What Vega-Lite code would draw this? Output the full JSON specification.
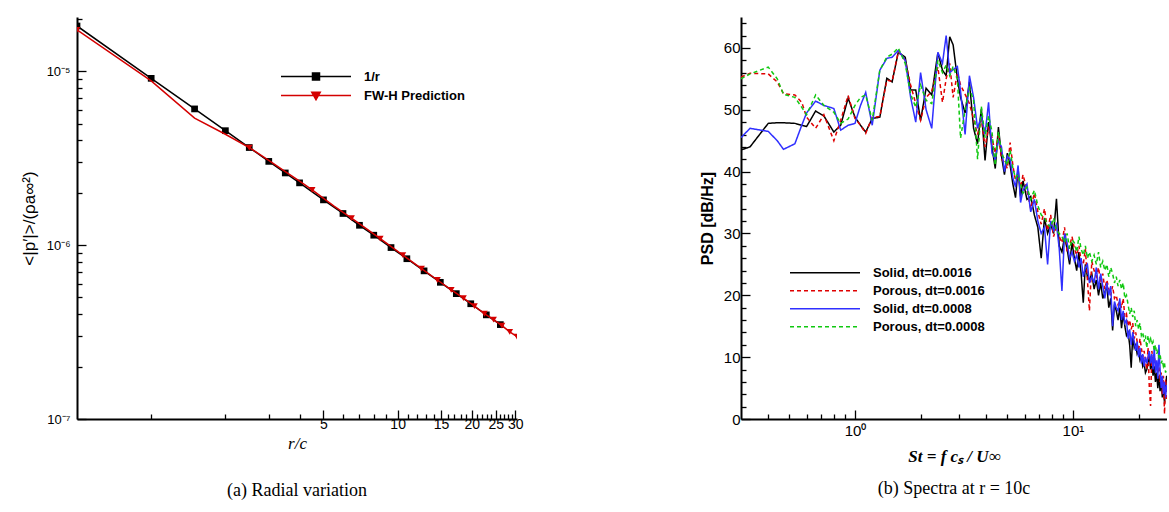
{
  "$schema": "https://vega.github.io/schema/vega-lite/v6.json",
  "padding": {"left": 20, "top": 12, "right": 0, "bottom": 0},
  "spacing": 175,
  "background": "white",
  "resolve": {"scale": {"color": "independent", "strokeDash": "independent", "shape": "independent"}, "legend": {"color": "independent", "strokeDash": "independent", "shape": "independent"}},
  "config": {
    "view": {"stroke": null},
    "axis": {"grid": false, "domainColor": "black", "domainWidth": 2, "tickColor": "black", "tickWidth": 1.3, "labelColor": "black", "titleColor": "black", "labelFont": "Liberation Sans", "titleFont": "Liberation Sans", "labelOverlap": false, "labelFlush": false, "labelBound": false},
    "title": {"font": "Liberation Serif", "fontSize": 18, "fontWeight": "normal", "color": "black", "frame": "group", "anchor": "middle"}
  },
  "datasets": {
    "radial": [
      {"r": 0.5, "v": 1.82e-5, "series": "1/r"},
      {"r": 1, "v": 9.1e-6, "series": "1/r"},
      {"r": 1.5, "v": 6.07e-6, "series": "1/r"},
      {"r": 2, "v": 4.55e-6, "series": "1/r"},
      {"r": 2.5, "v": 3.64e-6, "series": "1/r"},
      {"r": 3, "v": 3.03e-6, "series": "1/r"},
      {"r": 3.5, "v": 2.6e-6, "series": "1/r"},
      {"r": 4, "v": 2.28e-6, "series": "1/r"},
      {"r": 5, "v": 1.82e-6, "series": "1/r"},
      {"r": 6, "v": 1.52e-6, "series": "1/r"},
      {"r": 7, "v": 1.3e-6, "series": "1/r"},
      {"r": 8, "v": 1.14e-6, "series": "1/r"},
      {"r": 9.4, "v": 9.68e-7, "series": "1/r"},
      {"r": 10.9, "v": 8.35e-7, "series": "1/r"},
      {"r": 12.8, "v": 7.11e-7, "series": "1/r"},
      {"r": 14.9, "v": 6.11e-7, "series": "1/r"},
      {"r": 17.3, "v": 5.26e-7, "series": "1/r"},
      {"r": 19.8, "v": 4.6e-7, "series": "1/r"},
      {"r": 22.9, "v": 3.97e-7, "series": "1/r"},
      {"r": 26.1, "v": 3.49e-7, "series": "1/r"},
      {"r": 0.5, "v": 1.73e-5, "series": "FW-H Prediction"},
      {"r": 1, "v": 8.8e-6, "series": "FW-H Prediction"},
      {"r": 1.5, "v": 5.37e-6, "series": "FW-H Prediction"},
      {"r": 2, "v": 4.34e-6, "series": "FW-H Prediction"},
      {"r": 2.5, "v": 3.64e-6, "series": "FW-H Prediction"},
      {"r": 3, "v": 3.07e-6, "series": "FW-H Prediction"},
      {"r": 3.5, "v": 2.65e-6, "series": "FW-H Prediction"},
      {"r": 4, "v": 2.33e-6, "series": "FW-H Prediction"},
      {"r": 4.5, "v": 2.08e-6, "series": "FW-H Prediction"},
      {"r": 5.5, "v": 1.68e-6, "series": "FW-H Prediction"},
      {"r": 6.5, "v": 1.43e-6, "series": "FW-H Prediction"},
      {"r": 8.5, "v": 1.09e-6, "series": "FW-H Prediction"},
      {"r": 10.5, "v": 8.76e-7, "series": "FW-H Prediction"},
      {"r": 12.5, "v": 7.32e-7, "series": "FW-H Prediction"},
      {"r": 14.5, "v": 6.3e-7, "series": "FW-H Prediction"},
      {"r": 16.5, "v": 5.53e-7, "series": "FW-H Prediction"},
      {"r": 18.5, "v": 4.95e-7, "series": "FW-H Prediction"},
      {"r": 20.5, "v": 4.46e-7, "series": "FW-H Prediction"},
      {"r": 22.5, "v": 4.03e-7, "series": "FW-H Prediction"},
      {"r": 24.5, "v": 3.73e-7, "series": "FW-H Prediction"},
      {"r": 26.5, "v": 3.44e-7, "series": "FW-H Prediction"},
      {"r": 28.5, "v": 3.17e-7, "series": "FW-H Prediction"},
      {"r": 30.5, "v": 2.98e-7, "series": "FW-H Prediction"}
    ],
    "psd": [
      {"st": 0.3, "s16": 43.5, "p16": 55.3, "s08": 45.5, "p08": 55.0},
      {"st": 0.33, "s16": 44.0, "p16": 55.9, "s08": 47.0, "p08": 55.8},
      {"st": 0.4, "s16": 47.8, "p16": 55.8, "s08": 46.5, "p08": 56.9},
      {"st": 0.44, "s16": 47.9, "p16": 54.5, "s08": 45.0, "p08": 55.0},
      {"st": 0.47, "s16": 47.9, "p16": 52.6, "s08": 43.6, "p08": 52.5},
      {"st": 0.53, "s16": 47.8, "p16": 52.4, "s08": 44.5, "p08": 52.0},
      {"st": 0.57, "s16": 47.5, "p16": 51.2, "s08": 47.5, "p08": 50.4},
      {"st": 0.6, "s16": 47.3, "p16": 48.8, "s08": 49.5, "p08": 49.2},
      {"st": 0.66, "s16": 49.8, "p16": 47.0, "s08": 51.4, "p08": 52.4},
      {"st": 0.72, "s16": 49.0, "p16": 49.2, "s08": 50.7, "p08": 50.7},
      {"st": 0.8, "s16": 46.4, "p16": 45.0, "s08": 50.2, "p08": 49.6},
      {"st": 0.86, "s16": 47.5, "p16": 48.3, "s08": 46.7, "p08": 47.8},
      {"st": 0.93, "s16": 51.9, "p16": 52.3, "s08": 47.5, "p08": 48.5},
      {"st": 1.0, "s16": 48.8, "p16": 48.6, "s08": 47.8, "p08": 50.7},
      {"st": 1.06, "s16": 47.5, "p16": 47.5, "s08": 50.7, "p08": 52.0},
      {"st": 1.12, "s16": 46.4, "p16": 46.2, "s08": 52.8, "p08": 52.4},
      {"st": 1.2, "s16": 48.6, "p16": 48.8, "s08": 47.5, "p08": 48.3},
      {"st": 1.3, "s16": 48.8, "p16": 48.9, "s08": 56.4, "p08": 56.4},
      {"st": 1.4, "s16": 55.1, "p16": 54.8, "s08": 58.3, "p08": 58.5},
      {"st": 1.48, "s16": 54.5, "p16": 54.6, "s08": 58.5, "p08": 59.0},
      {"st": 1.58, "s16": 59.3, "p16": 59.4, "s08": 59.6, "p08": 60.0},
      {"st": 1.7, "s16": 58.5, "p16": 58.0, "s08": 58.0, "p08": 57.5},
      {"st": 1.8, "s16": 53.2, "p16": 54.0, "s08": 52.0, "p08": 52.5},
      {"st": 1.9, "s16": 53.2, "p16": 51.0, "s08": 48.0, "p08": 50.4},
      {"st": 2.0, "s16": 48.3, "p16": 48.3, "s08": 56.0, "p08": 54.0},
      {"st": 2.12, "s16": 53.5, "p16": 52.0, "s08": 50.0, "p08": 51.5},
      {"st": 2.25, "s16": 52.4, "p16": 53.0, "s08": 47.0, "p08": 51.0},
      {"st": 2.4, "s16": 59.2, "p16": 56.9, "s08": 59.3, "p08": 58.0},
      {"st": 2.52, "s16": 56.4, "p16": 51.2, "s08": 57.5, "p08": 56.0},
      {"st": 2.62, "s16": 55.5, "p16": 55.0, "s08": 62.0, "p08": 57.2},
      {"st": 2.72, "s16": 61.8, "p16": 57.5, "s08": 56.0, "p08": 55.5},
      {"st": 2.82, "s16": 60.5, "p16": 52.0, "s08": 56.5, "p08": 57.0},
      {"st": 2.95, "s16": 55.0, "p16": 56.0, "s08": 57.0, "p08": 55.0},
      {"st": 3.05, "s16": 52.0, "p16": 54.0, "s08": 53.0, "p08": 45.4},
      {"st": 3.2, "s16": 49.5, "p16": 52.5, "s08": 46.0, "p08": 50.0},
      {"st": 3.35, "s16": 54.5, "p16": 51.0, "s08": 55.5, "p08": 53.5},
      {"st": 3.5, "s16": 47.0, "p16": 48.5, "s08": 52.0, "p08": 51.5},
      {"st": 3.65, "s16": 44.5, "p16": 46.0, "s08": 47.0, "p08": 42.0},
      {"st": 3.8, "s16": 50.2, "p16": 48.5, "s08": 49.0, "p08": 50.5},
      {"st": 3.95, "s16": 41.8, "p16": 44.0, "s08": 46.0, "p08": 45.5},
      {"st": 4.1, "s16": 48.0, "p16": 47.0, "s08": 51.2, "p08": 49.0},
      {"st": 4.25, "s16": 44.0, "p16": 45.5, "s08": 43.0, "p08": 46.5},
      {"st": 4.4, "s16": 40.5, "p16": 43.0, "s08": 42.0, "p08": 41.0},
      {"st": 4.55, "s16": 47.2, "p16": 46.0, "s08": 45.0, "p08": 46.5},
      {"st": 4.7, "s16": 42.5, "p16": 42.0, "s08": 44.0, "p08": 43.0},
      {"st": 4.85, "s16": 39.5, "p16": 41.5, "s08": 40.0, "p08": 42.0},
      {"st": 5.0, "s16": 43.0, "p16": 40.5, "s08": 42.5, "p08": 41.0},
      {"st": 5.15, "s16": 41.0, "p16": 44.7, "s08": 42.0, "p08": 43.5},
      {"st": 5.3, "s16": 38.0, "p16": 41.0, "s08": 39.0, "p08": 40.5},
      {"st": 5.45, "s16": 35.8, "p16": 38.5, "s08": 37.5, "p08": 39.0},
      {"st": 5.6, "s16": 40.5, "p16": 39.0, "s08": 41.0, "p08": 39.5},
      {"st": 5.75, "s16": 36.0, "p16": 37.5, "s08": 35.0, "p08": 38.0},
      {"st": 5.9, "s16": 38.5, "p16": 39.5, "s08": 37.0, "p08": 36.5},
      {"st": 6.15, "s16": 35.5, "p16": 37.0, "s08": 38.0, "p08": 37.5},
      {"st": 6.4, "s16": 36.0, "p16": 34.0, "s08": 33.5, "p08": 35.5},
      {"st": 6.65, "s16": 33.0, "p16": 36.5, "s08": 35.5, "p08": 37.0},
      {"st": 6.9, "s16": 31.0, "p16": 33.5, "s08": 32.0, "p08": 34.5},
      {"st": 7.15, "s16": 26.0, "p16": 31.5, "s08": 30.0, "p08": 33.0},
      {"st": 7.4, "s16": 32.5, "p16": 34.0, "s08": 31.0, "p08": 32.5},
      {"st": 7.65, "s16": 30.0, "p16": 30.5, "s08": 25.0, "p08": 31.5},
      {"st": 7.9, "s16": 31.5, "p16": 33.0, "s08": 32.0, "p08": 31.0},
      {"st": 8.15, "s16": 30.0, "p16": 29.5, "s08": 30.5, "p08": 32.5},
      {"st": 8.4, "s16": 35.6, "p16": 31.0, "s08": 31.5, "p08": 30.5},
      {"st": 8.65, "s16": 28.0, "p16": 29.5, "s08": 27.5, "p08": 30.0},
      {"st": 8.9, "s16": 27.0, "p16": 28.5, "s08": 20.7, "p08": 29.5},
      {"st": 9.15, "s16": 29.5, "p16": 31.0, "s08": 30.0, "p08": 28.5},
      {"st": 9.4, "s16": 27.5, "p16": 27.0, "s08": 28.5, "p08": 30.0},
      {"st": 9.65, "s16": 25.0, "p16": 28.0, "s08": 26.0, "p08": 27.5},
      {"st": 9.9, "s16": 28.5, "p16": 29.5, "s08": 27.0, "p08": 29.0},
      {"st": 10.15, "s16": 26.0, "p16": 27.5, "s08": 25.5, "p08": 28.5},
      {"st": 10.4, "s16": 24.0, "p16": 26.5, "s08": 26.5, "p08": 27.0},
      {"st": 10.65, "s16": 27.0, "p16": 28.0, "s08": 24.5, "p08": 29.5},
      {"st": 10.9, "s16": 23.5, "p16": 25.5, "s08": 26.0, "p08": 27.5},
      {"st": 11.15, "s16": 18.8, "p16": 25.0, "s08": 23.0, "p08": 26.5},
      {"st": 11.4, "s16": 25.0, "p16": 27.5, "s08": 24.5, "p08": 28.0},
      {"st": 11.65, "s16": 23.0, "p16": 22.5, "s08": 25.0, "p08": 26.0},
      {"st": 11.9, "s16": 22.5, "p16": 17.5, "s08": 22.0, "p08": 27.0},
      {"st": 12.2, "s16": 23.5, "p16": 25.5, "s08": 23.0, "p08": 25.5},
      {"st": 12.5, "s16": 21.0, "p16": 24.0, "s08": 22.0, "p08": 26.5},
      {"st": 12.8, "s16": 22.5, "p16": 23.0, "s08": 24.5, "p08": 25.0},
      {"st": 13.1, "s16": 20.0, "p16": 24.5, "s08": 21.0, "p08": 27.0},
      {"st": 13.4, "s16": 22.0, "p16": 22.0, "s08": 23.5, "p08": 24.5},
      {"st": 13.7, "s16": 19.5, "p16": 23.5, "s08": 21.5, "p08": 25.5},
      {"st": 14.0, "s16": 20.5, "p16": 21.0, "s08": 19.5, "p08": 24.0},
      {"st": 14.3, "s16": 21.5, "p16": 22.5, "s08": 22.0, "p08": 25.0},
      {"st": 14.6, "s16": 18.0, "p16": 21.0, "s08": 20.0, "p08": 23.0},
      {"st": 14.9, "s16": 19.5, "p16": 20.0, "s08": 21.5, "p08": 24.5},
      {"st": 15.2, "s16": 14.3, "p16": 21.5, "s08": 15.0, "p08": 23.5},
      {"st": 15.5, "s16": 18.5, "p16": 19.5, "s08": 19.0, "p08": 22.0},
      {"st": 15.8, "s16": 17.5, "p16": 20.0, "s08": 18.0, "p08": 23.0},
      {"st": 16.1, "s16": 16.0, "p16": 18.5, "s08": 17.5, "p08": 21.5},
      {"st": 16.4, "s16": 18.0, "p16": 19.0, "s08": 19.5, "p08": 22.5},
      {"st": 16.7, "s16": 14.7, "p16": 18.0, "s08": 16.0, "p08": 21.0},
      {"st": 17.0, "s16": 17.0, "p16": 19.5, "s08": 17.5, "p08": 22.0},
      {"st": 17.3, "s16": 15.0, "p16": 16.5, "s08": 15.5, "p08": 19.5},
      {"st": 17.6, "s16": 13.5, "p16": 17.0, "s08": 16.0, "p08": 20.0},
      {"st": 17.9, "s16": 14.0, "p16": 15.0, "s08": 13.0, "p08": 18.5},
      {"st": 18.2, "s16": 12.0, "p16": 16.0, "s08": 14.5, "p08": 17.0},
      {"st": 18.5, "s16": 8.3, "p16": 14.5, "s08": 12.0, "p08": 18.0},
      {"st": 18.8, "s16": 13.5, "p16": 15.5, "s08": 14.0, "p08": 16.5},
      {"st": 19.1, "s16": 11.5, "p16": 13.0, "s08": 12.5, "p08": 17.5},
      {"st": 19.4, "s16": 12.0, "p16": 14.0, "s08": 11.0, "p08": 15.0},
      {"st": 19.7, "s16": 10.5, "p16": 12.5, "s08": 12.5, "p08": 16.0},
      {"st": 20.0, "s16": 11.0, "p16": 11.0, "s08": 10.0, "p08": 14.5},
      {"st": 20.3, "s16": 9.5, "p16": 13.0, "s08": 11.5, "p08": 15.5},
      {"st": 20.6, "s16": 10.0, "p16": 11.5, "s08": 9.0, "p08": 13.5},
      {"st": 20.9, "s16": 8.5, "p16": 10.0, "s08": 10.5, "p08": 14.0},
      {"st": 21.2, "s16": 9.0, "p16": 11.0, "s08": 8.5, "p08": 12.5},
      {"st": 21.5, "s16": 7.5, "p16": 9.5, "s08": 10.0, "p08": 13.5},
      {"st": 21.8, "s16": 8.0, "p16": 8.0, "s08": 9.0, "p08": 11.5},
      {"st": 22.1, "s16": 9.0, "p16": 11.5, "s08": 10.0, "p08": 13.5},
      {"st": 22.4, "s16": 10.5, "p16": 5.0, "s08": 11.0, "p08": 12.5},
      {"st": 22.7, "s16": 8.0, "p16": 2.1, "s08": 9.0, "p08": 13.0},
      {"st": 23.0, "s16": 9.5, "p16": 11.0, "s08": 10.5, "p08": 12.0},
      {"st": 23.3, "s16": 7.0, "p16": 9.5, "s08": 8.0, "p08": 12.5},
      {"st": 23.6, "s16": 8.5, "p16": 10.5, "s08": 11.5, "p08": 11.0},
      {"st": 23.9, "s16": 6.0, "p16": 8.5, "s08": 7.5, "p08": 12.0},
      {"st": 24.2, "s16": 7.5, "p16": 9.0, "s08": 9.5, "p08": 10.5},
      {"st": 24.5, "s16": 5.0, "p16": 7.5, "s08": 6.5, "p08": 11.0},
      {"st": 24.8, "s16": 7.0, "p16": 8.5, "s08": 12.0, "p08": 10.0},
      {"st": 25.1, "s16": 4.5, "p16": 6.0, "s08": 8.0, "p08": 10.5},
      {"st": 25.4, "s16": 6.5, "p16": 7.5, "s08": 5.0, "p08": 9.0},
      {"st": 25.7, "s16": 3.5, "p16": 4.0, "s08": 7.0, "p08": 9.5},
      {"st": 26.0, "s16": 6.0, "p16": 7.0, "s08": 4.0, "p08": 8.5},
      {"st": 26.3, "s16": 2.5, "p16": 0.8, "s08": 6.0, "p08": 9.0},
      {"st": 26.6, "s16": 5.0, "p16": 6.5, "s08": 3.5, "p08": 7.5},
      {"st": 26.9, "s16": 7.0, "p16": 3.0, "s08": 5.5, "p08": 8.0}
    ]
  },
  "hconcat": [
    {
      "width": 440,
      "height": 402,
      "data": {"name": "radial"},
      "title": {"text": "(a) Radial variation", "orient": "bottom", "offset": 31},
      "encoding": {
        "x": {"field": "r", "type": "quantitative", "scale": {"type": "log", "domain": [0.5, 30.5]},
          "axis": {"title": "r/c", "titleFont": "Liberation Serif", "titleFontStyle": "italic", "titleFontWeight": "normal", "titleFontSize": 17, "titlePadding": 0,
            "values": [1,2,3,4,5,6,7,8,9,10,11,12,13,14,15,16,17,18,19,20,21,22,23,24,25,26,27,28,29,30],
            "labelExpr": "indexof([5,10,15,20,25,30], datum.value) >= 0 ? '' + datum.value : ''",
            "tickSize": {"condition": {"test": "indexof([5,10,15,20,25,30], datum.value) >= 0", "value": -9}, "value": -5},
            "labelPadding": 7, "labelFontSize": 14}},
        "y": {"field": "v", "type": "quantitative", "scale": {"type": "log", "domain": [1e-7, 2.05e-5]},
          "axis": {"title": "<|p′|>/(ρa∞²)", "titleFontSize": 17, "titleFontWeight": "normal", "titlePadding": 8,
            "values": [1e-7,2e-7,3e-7,4e-7,5e-7,6e-7,7e-7,8e-7,9e-7,1e-6,2e-6,3e-6,4e-6,5e-6,6e-6,7e-6,8e-6,9e-6,1e-5,2e-5],
            "labelExpr": "datum.value == 1e-5 ? '10⁻⁵' : datum.value == 1e-6 ? '10⁻⁶' : datum.value == 1e-7 ? '10⁻⁷' : ''",
            "tickSize": {"condition": {"test": "datum.value == 1e-5 || datum.value == 1e-6 || datum.value == 1e-7", "value": -9}, "value": -5},
            "labelPadding": 16, "labelFontSize": 13}},
        "color": {"field": "series", "type": "nominal", "scale": {"domain": ["1/r", "FW-H Prediction"], "range": ["#000000", "#d40000"]},
          "legend": {"orient": "none", "legendX": 203, "legendY": 50, "title": null, "padding": 0, "rowPadding": 0, "clipHeight": 19,
            "symbolSize": 4900, "symbolStrokeWidth": 1.5, "labelFont": "Liberation Sans", "labelFontSize": 13, "labelFontWeight": "bold", "labelOffset": 12, "labelColor": "black",
            "encode": {"symbols": {"update": {
              "shape": {"signal": "datum.value === '1/r' ? 'M-1,0H1M-0.1,-0.1H0.1V0.1H-0.1Z' : 'M-1,0H1M-0.12,-0.09H0.12L0,0.12Z'"},
              "fill": {"signal": "datum.value === '1/r' ? '#000000' : '#d40000'"},
              "stroke": {"signal": "datum.value === '1/r' ? '#000000' : '#d40000'"},
              "opacity": {"value": 1}}}}}}
      },
      "layer": [
        {"transform": [{"filter": "datum.series === '1/r'"}], "mark": {"type": "line", "strokeWidth": 1.5, "clip": true}},
        {"transform": [{"filter": "datum.series === '1/r'"}], "mark": {"type": "point", "filled": true, "opacity": 1, "size": 45, "shape": "square", "clip": true}},
        {"transform": [{"filter": "datum.series === 'FW-H Prediction'"}], "mark": {"type": "line", "strokeWidth": 1.5, "clip": true}},
        {"transform": [{"filter": "datum.series === 'FW-H Prediction' && indexof([0.5,2.5,4.5,6.5,8.5,10.5,12.5,14.5,16.5,18.5,20.5,22.5,24.5,26.5,28.5,30.5], datum.r) >= 0"}], "mark": {"type": "point", "filled": true, "opacity": 1, "size": 45, "shape": "triangle-down", "clip": true}}
      ]
    },
    {
      "width": 426,
      "height": 402,
      "data": {"name": "psd"},
      "title": {"text": "(b) Spectra at r = 10c", "orient": "bottom", "offset": 16},
      "transform": [{"fold": ["s16", "p16", "s08", "p08"], "as": ["key", "dB"]}],
      "mark": {"type": "line", "strokeWidth": 1.5, "clip": true},
      "encoding": {
        "x": {"field": "st", "type": "quantitative", "scale": {"type": "log", "domain": [0.3, 27]},
          "axis": {"title": "St = f cₛ / U∞", "titleFont": "Liberation Serif", "titleFontStyle": "italic", "titleFontWeight": "bold", "titleFontSize": 17, "titlePadding": 6,
            "values": [0.4,0.5,0.6,0.7,0.8,0.9,1,2,3,4,5,6,7,8,9,10,20],
            "labelExpr": "datum.value == 1 ? '10⁰' : datum.value == 10 ? '10¹' : ''",
            "tickSize": {"condition": {"test": "datum.value == 1 || datum.value == 10", "value": -9}, "value": -5},
            "labelPadding": 13, "labelFontSize": 15}},
        "y": {"field": "dB", "type": "quantitative", "scale": {"domain": [0, 65]},
          "axis": {"title": "PSD [dB/Hz]", "titleFontSize": 16, "titleFontWeight": "bold", "titlePadding": 8,
            "values": [0,2,4,6,8,10,12,14,16,18,20,22,24,26,28,30,32,34,36,38,40,42,44,46,48,50,52,54,56,58,60,62,64],
            "labelExpr": "datum.value % 10 == 0 ? '' + datum.value : ''",
            "tickSize": {"condition": {"test": "datum.value % 10 == 0", "value": -9}, "value": -5},
            "labelPadding": 10, "labelFontSize": 15}},
        "color": {"field": "key", "type": "nominal", "scale": {"domain": ["s16", "p16", "s08", "p08"], "range": ["#000000", "#e00000", "#3030ff", "#10c810"]},
          "legend": {"orient": "none", "legendX": 48, "legendY": 247, "title": null, "padding": 0, "rowPadding": 0, "clipHeight": 17.7,
            "symbolType": "stroke", "symbolSize": 4900, "symbolStrokeWidth": 1.5, "labelFont": "Liberation Sans", "labelFontSize": 13, "labelFontWeight": "bold", "labelOffset": 12, "labelColor": "black",
            "labelExpr": "{'s16': 'Solid, dt=0.0016', 'p16': 'Porous, dt=0.0016', 's08': 'Solid, dt=0.0008', 'p08': 'Porous, dt=0.0008'}[datum.label]"}},
        "strokeDash": {"field": "key", "type": "nominal", "scale": {"domain": ["s16", "p16", "s08", "p08"], "range": [[1, 0], [4, 3], [1, 0], [4, 3]]},
          "legend": {"orient": "none", "legendX": 48, "legendY": 247, "title": null, "padding": 0, "rowPadding": 0, "clipHeight": 17.7,
            "symbolType": "stroke", "symbolSize": 4900, "symbolStrokeWidth": 1.5, "labelFont": "Liberation Sans", "labelFontSize": 13, "labelFontWeight": "bold", "labelOffset": 12, "labelColor": "black",
            "labelExpr": "{'s16': 'Solid, dt=0.0016', 'p16': 'Porous, dt=0.0016', 's08': 'Solid, dt=0.0008', 'p08': 'Porous, dt=0.0008'}[datum.label]"}}
      }
    }
  ]
}
